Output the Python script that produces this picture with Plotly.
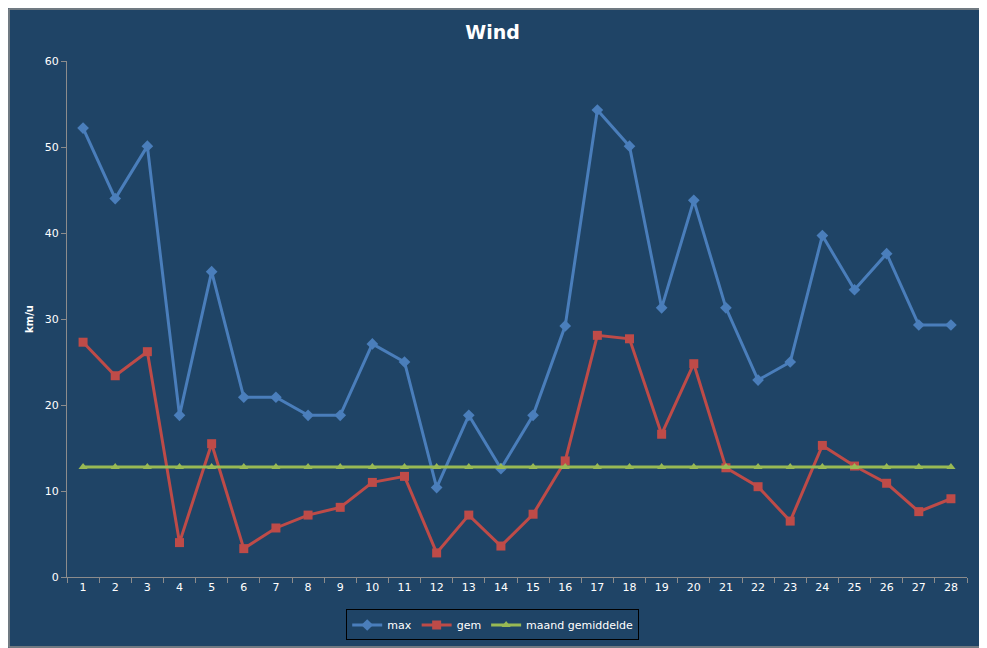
import plotly.graph_objects as go

days = [str(i) for i in range(1, 29)]
max_wind = [52.2, 44.0, 50.1, 18.8, 35.5, 20.9, 20.9, 18.8, 18.8, 27.1, 25.0, 10.4, 18.8, 12.6,
            18.8, 29.2, 54.3, 50.1, 31.3, 43.8, 31.3, 22.9, 25.0, 39.7, 33.4, 37.6, 29.3, 29.3]
gem_wind = [27.3, 23.4, 26.2, 4.0, 15.5, 3.3, 5.7, 7.2, 8.1, 11.0, 11.7, 2.8, 7.2, 3.6,
            7.3, 13.5, 28.1, 27.7, 16.6, 24.8, 12.7, 10.5, 6.5, 15.3, 12.9, 10.9, 7.6, 9.1]
maand_gem = [12.8] * 28

BG = "#1F4466"
AX = "#8C8C8C"
TXT = "#FFFFFF"

fig = go.Figure()
fig.add_trace(go.Scatter(x=days, y=max_wind, name="max", mode="lines+markers",
                         line=dict(color="#4A7EBB", width=3),
                         marker=dict(symbol="diamond", size=9, color="#4A7EBB")))
fig.add_trace(go.Scatter(x=days, y=gem_wind, name="gem", mode="lines+markers",
                         line=dict(color="#BE4B48", width=3),
                         marker=dict(symbol="square", size=9, color="#BE4B48")))
fig.add_trace(go.Scatter(x=days, y=maand_gem, name="maand gemiddelde", mode="lines+markers",
                         line=dict(color="#98B954", width=3),
                         marker=dict(symbol="triangle-up", size=8, color="#98B954")))

fig.update_layout(
    width=979, height=640,
    paper_bgcolor=BG, plot_bgcolor=BG,
    margin=dict(l=59, r=20, t=53, b=71, autoexpand=False),
    font=dict(family="DejaVu Sans", size=11, color=TXT),
    title=dict(text="<b>Wind</b>", x=0.495, xanchor="center", y=0.9625, yanchor="middle",
               font=dict(family="DejaVu Sans", size=19, color=TXT)),
    showlegend=True,
    legend=dict(orientation="h", x=0.473, xanchor="center", y=-0.093, yanchor="middle",
                bgcolor=BG, bordercolor="#000000", borderwidth=1,
                font=dict(family="DejaVu Sans", size=11, color=TXT),
                itemwidth=30, tracegroupgap=0),
    xaxis=dict(type="category", range=[-0.5, 27.5], tickson="boundaries",
               ticks="outside", ticklen=5, tickcolor=AX, showline=True, linecolor=AX,
               linewidth=1, showgrid=False, zeroline=False,
               tickfont=dict(family="DejaVu Sans", size=11, color=TXT)),
    yaxis=dict(range=[0, 60], dtick=10, ticks="outside", ticklen=5, tickcolor=AX,
               showline=True, linecolor=AX, linewidth=1, showgrid=False, zeroline=False,
               title=dict(text="<b>km/u</b>", font=dict(family="DejaVu Sans", size=10, color=TXT),
                          standoff=9),
               tickfont=dict(family="DejaVu Sans", size=11, color=TXT)),
)

fig.add_shape(type="rect", xref="paper", yref="paper", x0=-58/900, x1=1 + 18/900,
              y0=-70/516, y1=1 + 52/516, line=dict(color="#8C8C8C", width=1.5),
              fillcolor="rgba(0,0,0,0)", layer="below")

fig.write_html("out.html")
